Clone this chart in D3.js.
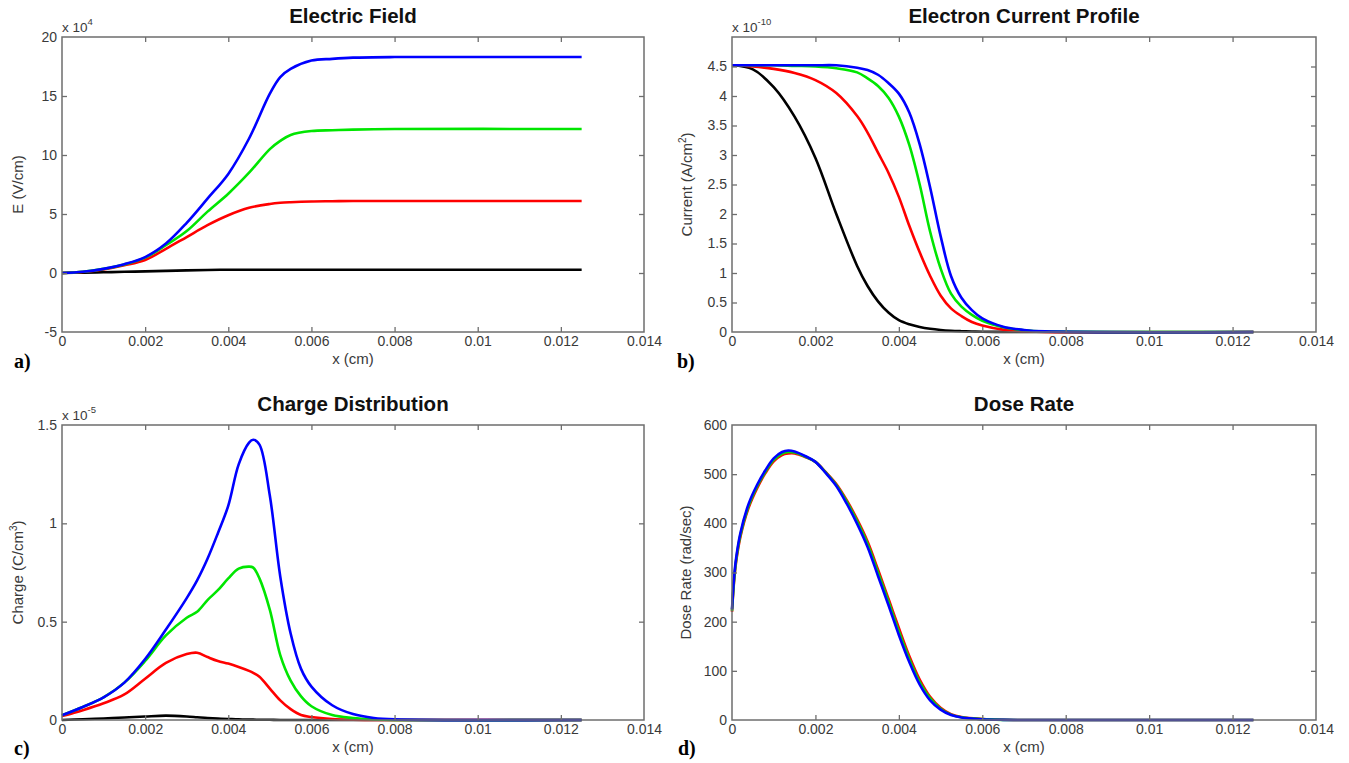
<!DOCTYPE html>
<html>
<head>
<meta charset="utf-8">
<script src="https://cdn.jsdelivr.net/npm/d3@7"></script>
<style>
  body { margin: 0; background: #fff; }
  svg { display: block; }
  text { font-family: "Liberation Sans", Arial, sans-serif; }
</style>
</head>
<body>
<svg id="fig" width="1349" height="763"></svg>
<script>
// ---------- data ----------
const xTickValues = [0, 0.002, 0.004, 0.006, 0.008, 0.01, 0.012, 0.014];
const seriesColors = { black: "#000000", red: "#ff0000", green: "#00e600", blue: "#0000ff" };

// a) electric field, E in units of 1e4 V/cm
const fieldX = [0, 0.0005, 0.001, 0.0015, 0.002, 0.0025, 0.003, 0.0035, 0.004, 0.0045, 0.005, 0.00525, 0.0055, 0.006, 0.0065, 0.007, 0.008, 0.0125];
const fieldBlack = [0, 0.03, 0.06, 0.1, 0.14, 0.18, 0.22, 0.26, 0.28, 0.28, 0.28, 0.28, 0.28, 0.28, 0.28, 0.28, 0.28, 0.28];
const fieldRed   = [0, 0.08, 0.3, 0.65, 1.1, 2.05, 3.05, 4.05, 4.89, 5.52, 5.85, 5.95, 6.0, 6.06, 6.08, 6.1, 6.1, 6.1];
const fieldGreen = [0, 0.1, 0.35, 0.72, 1.3, 2.35, 3.55, 5.2, 6.72, 8.5, 10.5, 11.2, 11.7, 12.03, 12.1, 12.15, 12.2, 12.2];
const fieldBlue  = [0, 0.1, 0.35, 0.75, 1.35, 2.5, 4.25, 6.3, 8.4, 11.4, 15.2, 16.6, 17.3, 18.0, 18.15, 18.25, 18.3, 18.3];
const fieldYTicks = [-5, 0, 5, 10, 15, 20];

// b) electron current, units of 1e-10 A/cm^2
const currentX = [0, 0.0005, 0.001, 0.0015, 0.002, 0.0025, 0.003, 0.00325, 0.0035, 0.00375, 0.004, 0.00425, 0.0045, 0.00475, 0.005, 0.00525, 0.0055, 0.00575, 0.006, 0.0065, 0.007, 0.0075, 0.0125];
const currentBlack = [4.52, 4.45, 4.15, 3.65, 2.95, 2.0, 1.12, 0.78, 0.52, 0.33, 0.2, 0.13, 0.085, 0.055, 0.035, 0.022, 0.014, 0.008, 0.005, 0.002, 0, 0, 0];
const currentRed   = [4.52, 4.5, 4.46, 4.39, 4.27, 4.05, 3.66, 3.38, 3.04, 2.7, 2.29, 1.8, 1.35, 0.95, 0.62, 0.4, 0.27, 0.17, 0.11, 0.04, 0.015, 0, 0];
const currentGreen = [4.52, 4.52, 4.52, 4.51, 4.5, 4.47, 4.4, 4.3, 4.17, 3.97, 3.65, 3.17, 2.5, 1.7, 1.08, 0.65, 0.43, 0.29, 0.19, 0.08, 0.03, 0.01, 0];
const currentBlue  = [4.52, 4.52, 4.52, 4.52, 4.52, 4.52, 4.48, 4.44, 4.36, 4.22, 4.04, 3.72, 3.18, 2.45, 1.63, 0.95, 0.58, 0.37, 0.23, 0.09, 0.035, 0.01, 0];
const currentYTicks = [0, 0.5, 1, 1.5, 2, 2.5, 3, 3.5, 4, 4.5];

// c) charge distribution, units of 1e-5 C/cm^3
const chargeX = [0, 0.0005, 0.001, 0.0015, 0.002, 0.0025, 0.003, 0.00325, 0.0035, 0.00375, 0.004, 0.00425, 0.0045, 0.0046, 0.00475, 0.005, 0.00525, 0.0055, 0.00575, 0.006, 0.0065, 0.007, 0.0075, 0.008, 0.0125];
const chargeBlack = [0, 0.004, 0.008, 0.013, 0.018, 0.022, 0.018, 0.014, 0.01, 0.007, 0.005, 0.003, 0.002, 0.002, 0.001, 0.001, 0, 0, 0, 0, 0, 0, 0, 0, 0];
const chargeRed   = [0.02, 0.05, 0.085, 0.13, 0.21, 0.29, 0.335, 0.342, 0.32, 0.3, 0.287, 0.27, 0.25, 0.24, 0.22, 0.16, 0.1, 0.055, 0.025, 0.015, 0.005, 0.001, 0, 0, 0];
const chargeGreen = [0.024, 0.066, 0.115, 0.19, 0.3, 0.43, 0.52, 0.55, 0.61, 0.66, 0.72, 0.77, 0.78, 0.775, 0.72, 0.56, 0.33, 0.2, 0.12, 0.07, 0.025, 0.01, 0.003, 0, 0];
const chargeBlue  = [0.024, 0.066, 0.115, 0.19, 0.31, 0.46, 0.62, 0.71, 0.82, 0.95, 1.09, 1.3, 1.41, 1.425, 1.4, 1.14, 0.73, 0.44, 0.26, 0.17, 0.075, 0.03, 0.01, 0.003, 0];
const chargeYTicks = [0, 0.5, 1, 1.5];

// d) dose rate, rad/sec
const doseX = [0, 0.00005, 0.0001, 0.0002, 0.0004, 0.0006, 0.0008, 0.001, 0.0012, 0.00135, 0.0015, 0.00175, 0.002, 0.00225, 0.0025, 0.00275, 0.003, 0.00325, 0.0035, 0.00375, 0.004, 0.00425, 0.0045, 0.00475, 0.005, 0.00525, 0.0055, 0.006, 0.0065, 0.007, 0.0125];
const doseRed   = [220, 282, 322, 372, 432, 471, 502, 526, 539, 542, 542, 535, 525, 504, 480, 447, 408, 363, 306, 247, 187, 130, 82, 47, 25, 12, 6, 2, 0.4, 0, 0];
const doseGreen = [222, 285, 326, 376, 436, 475, 505, 529, 542, 545, 544, 536, 525, 503, 478, 444, 404, 358, 300, 241, 180, 124, 77, 44, 23, 11, 5.5, 1.7, 0.3, 0, 0];
const doseBlue  = [225, 290, 330, 380, 440, 478, 508, 532, 545, 548, 546, 537, 525, 502, 476, 440, 399, 352, 293, 234, 173, 118, 72, 40, 21, 10, 5, 1.5, 0.3, 0, 0];
const doseYTicks = [0, 100, 200, 300, 400, 500, 600];

// ---------- panel layout ----------
const panels = [
  {
    tag: "a)", title: "Electric Field", ylabel: [{t: "E (V/cm)"}], exponent: "4",
    x: fieldX, series: [["black", fieldBlack], ["red", fieldRed], ["green", fieldGreen], ["blue", fieldBlue]],
    yDomain: [-5, 20], yTicks: fieldYTicks,
    box: {l: 62, r: 644, t: 37, b: 332}, ylabelX: 23, tagPos: [14, 368]
  },
  {
    tag: "b)", title: "Electron Current Profile", ylabel: [{t: "Current (A/cm"}, {t: "2", sup: true}, {t: ")"}], exponent: "-10",
    x: currentX, series: [["black", currentBlack], ["red", currentRed], ["green", currentGreen], ["blue", currentBlue]],
    yDomain: [0, 5], yTicks: currentYTicks,
    box: {l: 732, r: 1316, t: 37, b: 332}, ylabelX: 692, tagPos: [677, 368]
  },
  {
    tag: "c)", title: "Charge Distribution", ylabel: [{t: "Charge (C/cm"}, {t: "3", sup: true}, {t: ")"}], exponent: "-5",
    x: chargeX, series: [["black", chargeBlack], ["red", chargeRed], ["green", chargeGreen], ["blue", chargeBlue]],
    yDomain: [0, 1.5], yTicks: chargeYTicks,
    box: {l: 62, r: 644, t: 425, b: 720}, ylabelX: 23, tagPos: [14, 755]
  },
  {
    tag: "d)", title: "Dose Rate", ylabel: [{t: "Dose Rate (rad/sec)"}], exponent: null,
    x: doseX, series: [["red", doseRed], ["green", doseGreen], ["blue", doseBlue]],
    yDomain: [0, 600], yTicks: doseYTicks,
    box: {l: 732, r: 1316, t: 425, b: 720}, ylabelX: 691, tagPos: [678, 755]
  }
];

const svg = d3.select("#fig");
const axisColor = "#6e6e6e";
const textColor = "#3a3a3a";
const fmtX = v => String(+v.toFixed(3));

panels.forEach(p => {
  const {l, r, t, b} = p.box;
  const x = d3.scaleLinear().domain([0, 0.014]).range([l, r]);
  const y = d3.scaleLinear().domain(p.yDomain).range([b, t]);
  const g = svg.append("g");

  // data lines (smooth spline through the sampled values)
  const line = d3.line().x(d => x(d[0])).y(d => y(d[1])).curve(d3.curveCatmullRom.alpha(0.5));
  p.series.forEach(([name, vals]) => {
    g.append("path")
      .datum(p.x.map((xv, i) => [xv, vals[i]]))
      .attr("d", line)
      .attr("fill", "none")
      .attr("stroke", seriesColors[name])
      .attr("stroke-width", 2.6)
      .attr("stroke-linejoin", "round");
  });

  // axes: ticks point inward, mirrored on top/right
  const tickLen = 5;
  const xb = g.append("g").attr("transform", `translate(0,${b})`)
    .call(d3.axisBottom(x).tickValues(xTickValues).tickSizeInner(-tickLen).tickSizeOuter(0).tickPadding(4).tickFormat(fmtX));
  const xt = g.append("g").attr("transform", `translate(0,${t})`)
    .call(d3.axisTop(x).tickValues(xTickValues).tickSizeInner(-tickLen).tickSizeOuter(0).tickFormat(""));
  const yl = g.append("g").attr("transform", `translate(${l},0)`)
    .call(d3.axisLeft(y).tickValues(p.yTicks).tickSizeInner(-tickLen).tickSizeOuter(0).tickPadding(5).tickFormat(d => String(d)));
  const yr = g.append("g").attr("transform", `translate(${r},0)`)
    .call(d3.axisRight(y).tickValues(p.yTicks).tickSizeInner(-tickLen).tickSizeOuter(0).tickFormat(""));
  [xb, xt, yl, yr].forEach(a => {
    a.select(".domain").remove();
    a.selectAll(".tick line").attr("stroke", axisColor).attr("stroke-width", 1.3);
    a.selectAll(".tick text").attr("fill", textColor).style("font-size", "14px")
      .style("font-family", '"Liberation Sans", Arial, sans-serif');
  });
  // edge ticks coincide with the frame
  [xb, xt].forEach(a => a.selectAll(".tick line").filter(d => d === 0 || d === 0.014).remove());
  [yl, yr].forEach(a => a.selectAll(".tick line").filter(d => d === p.yDomain[0] || d === p.yDomain[1]).remove());

  // frame
  g.append("rect").attr("x", l).attr("y", t).attr("width", r - l).attr("height", b - t)
    .attr("fill", "none").attr("stroke", axisColor).attr("stroke-width", 1.5);

  // title
  g.append("text").attr("x", (l + r) / 2).attr("y", t - 14).attr("text-anchor", "middle")
    .style("font-size", "20.5px").style("font-weight", "bold").attr("fill", "#111").text(p.title);

  // x label
  g.append("text").attr("x", (l + r) / 2).attr("y", b + 32).attr("text-anchor", "middle")
    .style("font-size", "15px").attr("fill", textColor).text("x (cm)");

  // y label (rotated)
  const yt = g.append("text")
    .attr("transform", `translate(${p.ylabelX},${(t + b) / 2}) rotate(-90)`)
    .attr("text-anchor", "middle").style("font-size", "15px").attr("fill", textColor);
  p.ylabel.forEach(s => {
    const ts = yt.append("tspan").text(s.t);
    if (s.sup) ts.attr("dy", -6).style("font-size", "10px");
    else if (s.t === ")") ts.attr("dy", 6);
  });

  // exponent multiplier above the y axis
  if (p.exponent) {
    const ex = g.append("text").attr("x", l).attr("y", t - 5).style("font-size", "13.5px").attr("fill", textColor);
    ex.append("tspan").text("x 10");
    ex.append("tspan").attr("dy", -7).style("font-size", "9.5px").text(p.exponent);
  }

  // panel tag
  svg.append("text").attr("x", p.tagPos[0]).attr("y", p.tagPos[1])
    .style("font-family", '"Liberation Serif", "Times New Roman", serif')
    .style("font-size", "20px").style("font-weight", "bold").attr("fill", "#000").text(p.tag);
});
</script>
</body>
</html>
